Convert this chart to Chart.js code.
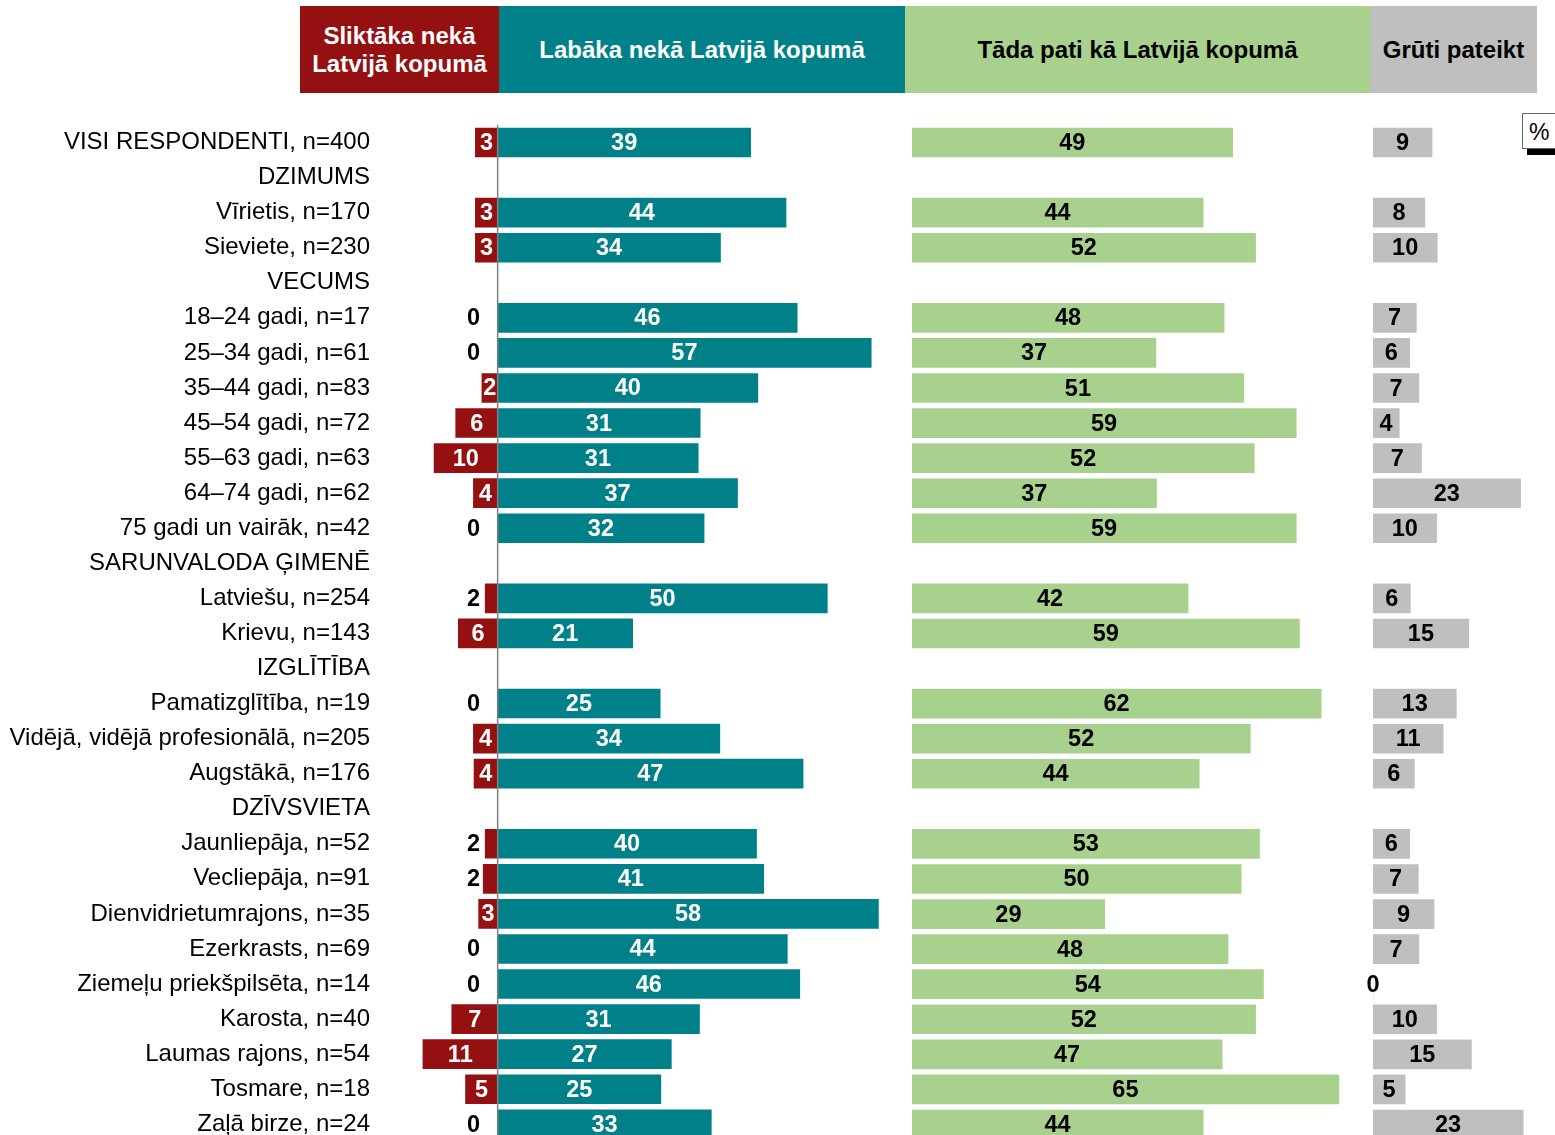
<!DOCTYPE html>
<html>
<head>
<meta charset="utf-8">
<script src="https://cdn.jsdelivr.net/npm/chart.js@4.4.1/dist/chart.umd.min.js"></script>
<style>
  html, body { margin:0; padding:0; background:#fff; overflow:hidden; width:1555px; height:1135px; }
  body { position:relative; font-family:"Liberation Sans", Arial, sans-serif; }
  .hdr { position:absolute; top:6px; height:87px; display:flex; align-items:center; justify-content:center;
         text-align:center; font-weight:bold; font-size:24px; line-height:28px; }
  .cv { position:absolute; top:0; }
  #pct { position:absolute; left:1522px; top:113px; width:40px; height:36px; border:1px solid #666;
         background:#fff; font-size:23px; line-height:36px; padding-left:6px; box-sizing:border-box;
         box-shadow: 5px 6px 0 #000; }
</style>
</head>
<body>
<div class="hdr" style="left:300px;width:199px;background:#951111;color:#fff;">Sliktāka nekā<br>Latvijā kopumā</div>
<div class="hdr" style="left:499px;width:406px;background:#00818A;color:#fff;">Labāka nekā Latvijā kopumā</div>
<div class="hdr" style="left:905px;width:465px;background:#A9D18E;color:#000;">Tāda pati kā Latvijā kopumā</div>
<div class="hdr" style="left:1370px;width:167px;background:#BFBFBF;color:#000;">Grūti pateikt</div>
<div id="pct">%</div>

<div class="cv" style="left:0;width:905px;height:1143px;"><canvas id="c1"></canvas></div>
<div class="cv" style="left:912px;width:459px;height:1142px;"><canvas id="c2"></canvas></div>
<div class="cv" style="left:1343px;width:194px;height:1142px;"><canvas id="c3"></canvas></div>

<script>
const categories = ["VISI RESPONDENTI, n=400","DZIMUMS","Vīrietis, n=170","Sieviete, n=230","VECUMS",
  "18–24 gadi, n=17","25–34 gadi, n=61","35–44 gadi, n=83","45–54 gadi, n=72","55–63 gadi, n=63",
  "64–74 gadi, n=62","75 gadi un vairāk, n=42","SARUNVALODA ĢIMENĒ","Latviešu, n=254","Krievu, n=143",
  "IZGLĪTĪBA","Pamatizglītība, n=19","Vidējā, vidējā profesionālā, n=205","Augstākā, n=176","DZĪVSVIETA",
  "Jaunliepāja, n=52","Vecliepāja, n=91","Dienvidrietumrajons, n=35","Ezerkrasts, n=69",
  "Ziemeļu priekšpilsēta, n=14","Karosta, n=40","Laumas rajons, n=54","Tosmare, n=18","Zaļā birze, n=24"];
const worse  = [3.4,null,3.4,3.4,null,0,0,2.4,6.4,9.7,3.7,0,null,1.9,6,null,0,3.7,3.6,null,1.9,2.2,2.9,0,0,7,11.4,4.9,0];
const better = [38.6,null,44,34,null,45.7,57,39.7,30.9,30.6,36.6,31.5,null,50.3,20.6,null,24.8,33.9,46.6,null,39.5,40.6,58.1,44.2,46.1,30.8,26.5,24.9,32.6];
const same   = [48.9,null,44.4,52.4,null,47.6,37.2,50.6,58.6,52.2,37.3,58.6,null,42.1,59.1,null,62.4,51.6,43.8,null,53,50.2,29.4,48.2,53.6,52.4,47.3,65.1,44.4];
const hard   = [9,null,7.9,9.8,null,6.6,5.6,7.0,4.0,7.4,22.5,9.7,null,5.7,14.6,null,12.7,10.7,6.3,null,5.6,6.9,9.3,7.0,0,9.7,15.0,4.9,22.9];

const RED = "#951111", TEAL = "#00818A", GREEN = "#A9D18E", GREY = "#BFBFBF";
const VALUE_FONT = 'bold 23.5px "Liberation Sans", Arial, sans-serif';
const BAR_T = 29;

function labelPlugin(id, opts) {
  return {
    id: id,
    afterDatasetsDraw(chart) {
      const ctx = chart.ctx;
      const xs = chart.scales.x;
      const zero = xs.getPixelForValue(0);
      ctx.save();
      ctx.font = VALUE_FONT;
      ctx.textBaseline = "middle";
      ctx.textAlign = "center";
      if (opts.axisLine) {
        ctx.strokeStyle = "#808080";
        ctx.lineWidth = 1.5;
        ctx.beginPath();
        ctx.moveTo(zero, chart.chartArea.top);
        ctx.lineTo(zero, chart.chartArea.bottom + 20);
        ctx.stroke();
      }
      chart.data.datasets.forEach((ds, di) => {
        const meta = chart.getDatasetMeta(di);
        meta.data.forEach((bar, i) => {
          const raw = ds.raw[i];
          if (raw === null || raw === undefined) return;
          const v = Math.round(Math.abs(raw));
          const w = Math.abs(bar.x - zero);
          const y = bar.y + 1;
          if (ds.kind === "worse") {
            if (w < 15) { ctx.fillStyle = "#000"; ctx.fillText(String(v), zero - 24, y); }
            else { ctx.fillStyle = "#fff"; ctx.fillText(String(v), (bar.x + zero) / 2, y); }
          } else if (ds.kind === "better") {
            ctx.fillStyle = "#fff"; ctx.fillText(String(v), (bar.x + zero) / 2, y);
          } else {
            ctx.fillStyle = "#000";
            ctx.fillText(String(v), v === 0 ? zero : (bar.x + zero) / 2, y);
          }
        });
      });
      ctx.restore();
    }
  };
}

const commonY = (display) => ({
  type: "category",
  stacked: true,
  display: display,
  offset: true,
  grid: { display: false, drawTicks: true, tickLength: 49 },
  border: { display: false }
});

Chart.defaults.animation = false;
Chart.defaults.font.family = '"Liberation Sans", Arial, sans-serif';

// Chart 1: labels + worse (red) + better (teal)
new Chart(document.getElementById("c1"), {
  type: "bar",
  data: {
    labels: categories,
    datasets: [
      { kind: "worse", raw: worse, data: worse.map(v => v === null ? null : -v), backgroundColor: RED, barThickness: BAR_T, stack: "s" },
      { kind: "better", raw: better, data: better, backgroundColor: TEAL, barThickness: BAR_T, stack: "s" }
    ]
  },
  options: {
    indexAxis: "y",
    responsive: true, maintainAspectRatio: false,
    layout: { padding: { top: 125, bottom: 0, left: 0, right: 1 } },
    plugins: { legend: { display: false }, tooltip: { enabled: false } },
    scales: {
      x: { type: "linear", stacked: true, display: false, min: -12, max: 62 },
      y: Object.assign(commonY(true), {
        ticks: { color: "#000", font: { size: 24, lineHeight: 0.1 }, padding: 0, autoSkip: false },
        afterFit(scale) { scale.width = 419; }
      })
    }
  },
  plugins: [labelPlugin("lab1", { axisLine: true })]
});

// Chart 2: same (green)
new Chart(document.getElementById("c2"), {
  type: "bar",
  data: {
    labels: categories,
    datasets: [{ kind: "same", raw: same, data: same, backgroundColor: GREEN, barThickness: BAR_T }]
  },
  options: {
    indexAxis: "y",
    responsive: true, maintainAspectRatio: false,
    layout: { padding: { top: 125, bottom: 0, left: 0, right: 0 } },
    plugins: { legend: { display: false }, tooltip: { enabled: false } },
    scales: {
      x: { type: "linear", display: false, min: 0, max: 70 },
      y: commonY(false)
    }
  },
  plugins: [labelPlugin("lab2", {})]
});

// Chart 3: hard to say (grey)
new Chart(document.getElementById("c3"), {
  type: "bar",
  data: {
    labels: categories,
    datasets: [{ kind: "hard", raw: hard, data: hard, backgroundColor: GREY, barThickness: BAR_T }]
  },
  options: {
    indexAxis: "y",
    responsive: true, maintainAspectRatio: false,
    layout: { padding: { top: 125, bottom: 0, left: 30, right: 0 } },
    plugins: { legend: { display: false }, tooltip: { enabled: false } },
    scales: {
      x: { type: "linear", display: false, min: 0, max: 25 },
      y: commonY(false)
    }
  },
  plugins: [labelPlugin("lab3", {})]
});
</script>
</body>
</html>
